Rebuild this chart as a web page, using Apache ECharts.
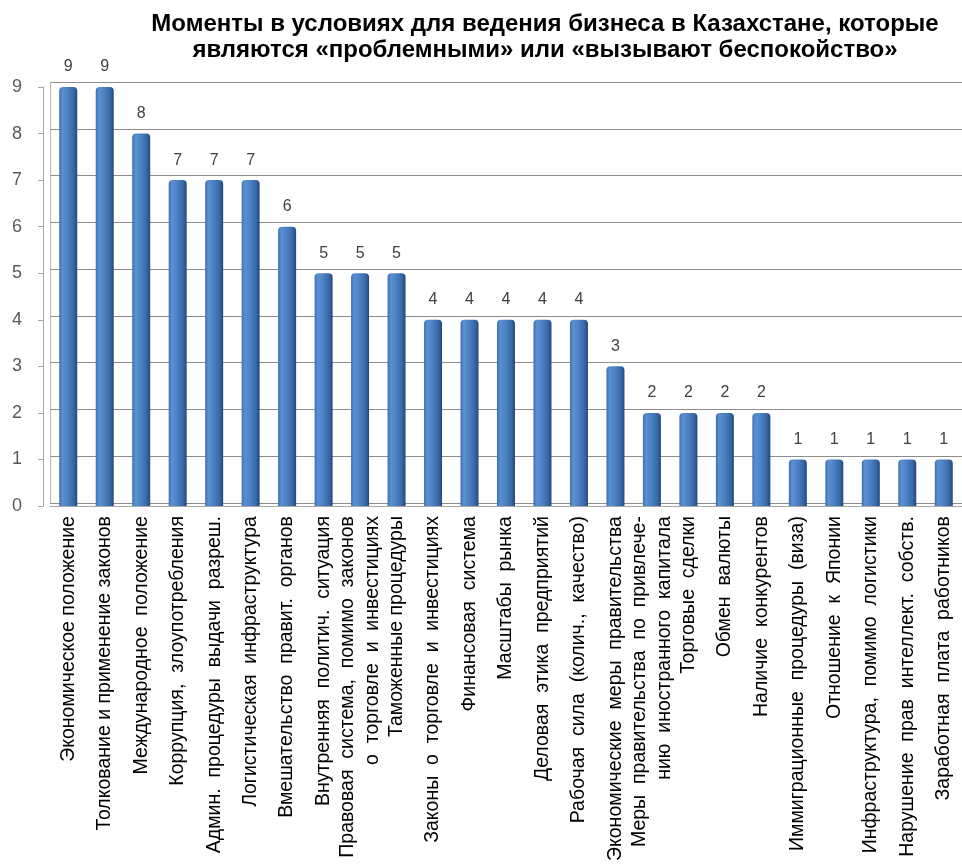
<!DOCTYPE html>
<html>
<head>
<meta charset="utf-8">
<title>Проблемные моменты для бизнеса в Казахстане</title>
<script src="https://cdn.jsdelivr.net/npm/echarts@6/dist/echarts.min.js"></script>
<style>
  html, body { margin: 0; padding: 0; background: #ffffff; }
  #chart { width: 962px; height: 864px; }
</style>
</head>
<body>
<div id="chart"></div>
<script>
// Факторы, отмеченные как «проблемные» / «вызывают беспокойство»
const categories = [
  'Экономическое положение',
  'Толкование и применение законов',
  'Международное  положение',
  'Коррупция,  злоупотребления',
  'Админ.  процедуры  выдачи  разреш.',
  'Логистическая  инфраструктура',
  'Вмешательство  правит.  органов',
  'Внутренняя  политич.  ситуация',
  'Правовая  система,  помимо  законов\nо  торговле  и  инвестициях',
  'Таможенные процедуры',
  'Законы  о  торговле  и  инвестициях',
  'Финансовая  система',
  'Масштабы  рынка',
  'Деловая  этика  предприятий',
  'Рабочая  сила  (колич.,  качество)',
  'Экономические  меры  правительства',
  'Меры  правительства  по  привлече-\nнию  иностранного  капитала',
  'Торговые  сделки',
  'Обмен  валюты',
  'Наличие  конкурентов',
  'Иммиграционные  процедуры  (виза)',
  'Отношение  к  Японии',
  'Инфраструктура,  помимо  логистики',
  'Нарушение  прав  интеллект.  собств.',
  'Заработная  плата  работников'
];

// Число ответов по каждому фактору
const counts = [9, 9, 8, 7, 7, 7, 6, 5, 5, 5, 4, 4, 4, 4, 4, 3, 2, 2, 2, 2, 1, 1, 1, 1, 1];

// Деления вертикальной оси
const yMin = 0;
const yMax = 9;
const yStep = 1;

const titleLines = [
  'Моменты в условиях для ведения бизнеса в Казахстане, которые',
  'являются «проблемными» или «вызывают беспокойство»'
];

const FONT = '"Liberation Sans", Arial, sans-serif';

const chart = echarts.init(document.getElementById('chart'));

// Цилиндрическая заливка столбцов: светлый блик слева, тень справа
const barFill = new echarts.graphic.LinearGradient(0, 0, 1, 0, [
  { offset: 0, color: '#3d6fb0' },
  { offset: 0.18, color: '#5b90d2' },
  { offset: 0.5, color: '#4a7fc1' },
  { offset: 0.8, color: '#3968a6' },
  { offset: 1, color: '#23477c' }
]);

chart.setOption({
  backgroundColor: '#ffffff',
  animation: false,
  title: {
    text: titleLines.join('\n'),
    left: 540,
    top: 6,
    textAlign: 'center',
    textStyle: {
      fontFamily: FONT,
      fontWeight: 'bold',
      fontSize: 24,
      lineHeight: 26,
      color: '#000000'
    }
  },
  grid: [
    // передний план: столбцы и подписи категорий
    { left: 50, top: 87, width: 914, height: 421, containLabel: false },
    // задняя стенка с линиями сетки (сдвинута вверх для объёма)
    { left: 50, top: 82, width: 914, height: 421, containLabel: false }
  ],
  xAxis: [
    {
      type: 'category',
      gridIndex: 0,
      data: categories,
      boundaryGap: true,
      axisLine: { show: true, lineStyle: { color: '#a6a6a6', width: 1 } },
      axisTick: { show: false },
      axisLabel: {
        interval: 0,
        rotate: 90,
        margin: 10,
        fontFamily: FONT,
        fontSize: 19.5,
        lineHeight: 25,
        color: '#000000'
      },
      splitLine: { show: false }
    },
    {
      type: 'category',
      gridIndex: 1,
      data: categories,
      show: false
    }
  ],
  yAxis: [
    {
      type: 'value',
      gridIndex: 0,
      min: yMin,
      max: yMax,
      interval: yStep,
      offset: 7,
      axisLine: { show: true, lineStyle: { color: '#a6a6a6', width: 1 } },
      axisTick: { show: true, length: 5, lineStyle: { color: '#a6a6a6' } },
      axisLabel: {
        margin: 21,
        padding: [10, 0, 0, 0],
        fontFamily: FONT,
        fontSize: 18,
        color: '#595959'
      },
      splitLine: { show: false }
    },
    {
      type: 'value',
      gridIndex: 1,
      min: yMin,
      max: yMax,
      interval: yStep,
      axisLine: { show: true, lineStyle: { color: '#b8b8b8', width: 1 } },
      axisTick: { show: false },
      axisLabel: { show: false },
      splitLine: { show: true, lineStyle: { color: '#8c8c8c', width: 1 } }
    }
  ],
  series: [
    {
      type: 'bar',
      xAxisIndex: 0,
      yAxisIndex: 0,
      data: counts,
      barWidth: 18,
      z: 5,
      itemStyle: {
        color: barFill,
        borderRadius: [4, 4, 0, 0]
      },
      label: {
        show: true,
        position: 'top',
        distance: 12,
        fontFamily: FONT,
        fontSize: 16,
        color: '#404040'
      }
    }
  ]
});
</script>
</body>
</html>
